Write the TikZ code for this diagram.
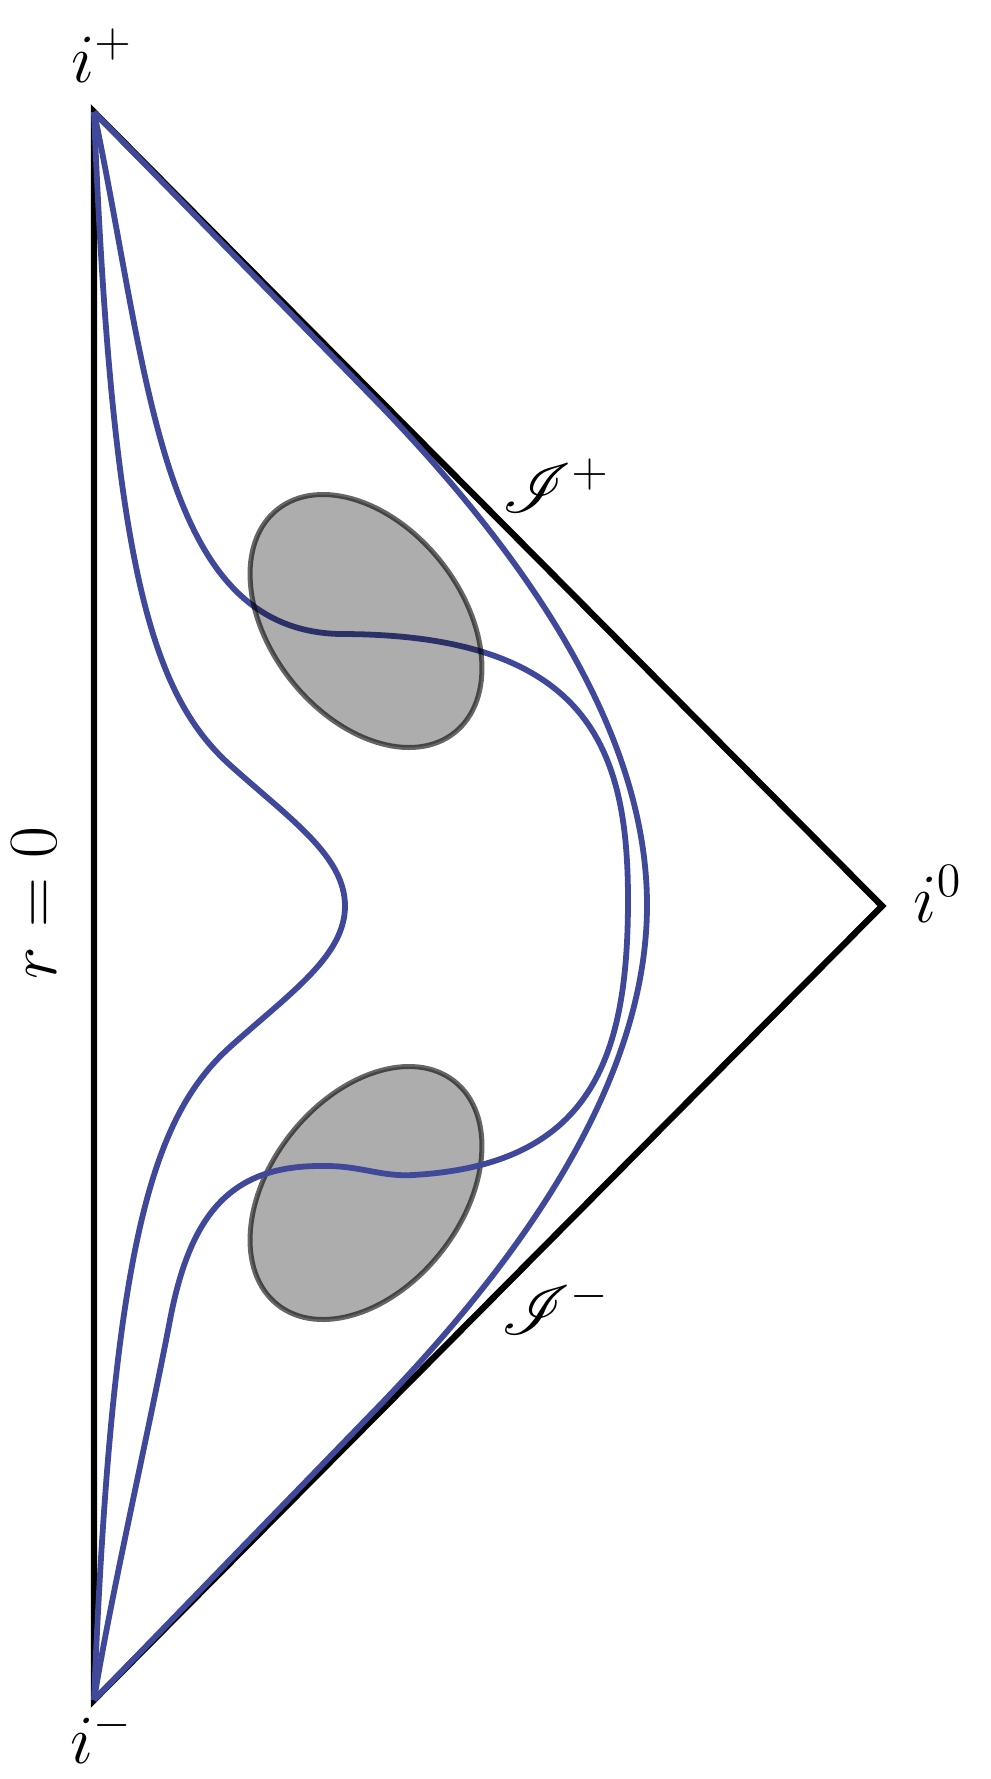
\documentclass[tikz,border=0pt]{standalone}
\usepackage{mathrsfs}
\definecolor{wblue}{RGB}{64,73,153}
\begin{document}
\begin{tikzpicture}[x=0.25pt,y=-0.25pt,
  bdry/.style={line width=1.6pt, draw=black, line join=miter},
  world/.style={line width=1.45pt, draw=wblue},
  blob/.style={fill=black, fill opacity=0.32, draw=black, draw opacity=0.6, line width=1.25pt},
  lbl/.style={inner sep=0pt, anchor=base, font=\fontsize{17}{20}\selectfont}]
\useasboundingbox (0,0) rectangle (990,1779);
\coordinate (ip) at (94,112);
\coordinate (im) at (94,1700);
\coordinate (iz) at (882,906);
% boundary of the diagram
\draw[bdry] (ip) -- (iz) -- (im) -- cycle;
% lower shaded region (under the world line)
\draw[blob] (366,1193) [rotate around={51.6:(366,1193)}] ellipse (142.5 and 95.6);
% outer curve A
\draw[world] (ip) -- (380,405) .. controls (510,540) and (647,720) .. (647,905)
  .. controls (647,1090) and (510,1270) .. (380,1405) -- (im);
% curve B
\draw[world] (ip) .. controls (150,380) and (160,630) .. (340,634)
  .. controls (590,634) and (628,750) .. (628,900)
  .. controls (628,1060) and (590,1165) .. (413,1175)
  .. controls (380,1177) and (360,1165) .. (320,1166)
  .. controls (230,1166) and (190,1215) .. (170,1320)
  .. controls (150,1425) and (110,1600) .. (im);
% curve C
\draw[world] (ip) .. controls (112,560) and (150,693) .. (230,765)
  .. controls (290,819) and (345,856) .. (345,906)
  .. controls (345,956) and (290,993) .. (230,1047)
  .. controls (150,1119) and (112,1252) .. (im);
% upper shaded region (over the world line)
\draw[blob] (366,621) [rotate around={-51.6:(366,621)}] ellipse (142.5 and 95.6);
% labels
\node[lbl] (lip) at (102,82) {$i^+$};
\node[lbl] (lim) at (102,1763) {$i^-$};
\node[lbl] (liz) at (938,922) {$i^0$};
\node[lbl] (lsp) at (556,512) {$\mathscr{I}^+$};
\node[lbl] (lsm) at (556,1334) {$\mathscr{I}^-$};
\node[lbl, rotate=90] (lr) at (56,903) {$r=0$};
\end{tikzpicture}
\end{document}
